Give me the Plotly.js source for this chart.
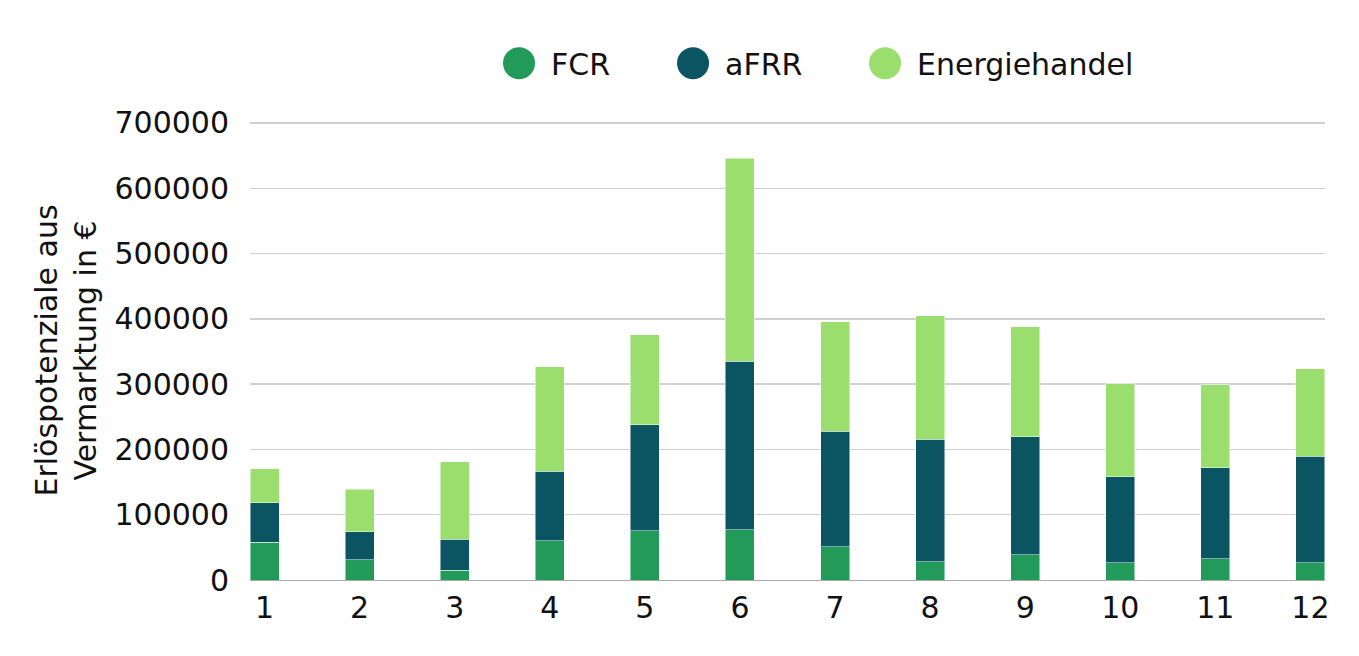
<!DOCTYPE html>
<html>
<head>
<meta charset="utf-8">
<script src="https://cdn.plot.ly/plotly-3.0.1.min.js"></script>
<style>html,body{margin:0;padding:0;background:#fff;}#chart{width:1359px;height:656px;}</style>
</head>
<body>
<div id="chart"></div>
<script>
// Data
var months = ["1","2","3","4","5","6","7","8","9","10","11","12"];
var fcr = [58000, 30700, 15300, 59800, 75200, 76700, 50600, 27600, 38400, 26100, 32200, 26100];
var afrr = [60500, 43500, 47100, 106400, 162600, 258300, 177000, 187700, 181000, 132400, 140100, 163100];
var energiehandel = [51700, 65000, 118600, 160600, 137700, 311000, 167800, 189700, 168800, 142300, 126900, 134600];
var seriesNames = ["FCR", "aFRR", "Energiehandel"];
var yTicks = [0, 100000, 200000, 300000, 400000, 500000, 600000, 700000];

var colors = ["#229A59", "#0B5563", "#9ADF6E"];
var FONT = "DejaVu Sans, sans-serif";

function barTrace(vals, i, lw) {
  return {
    type: "bar", x: months, y: vals, name: seriesNames[i],
    marker: {color: colors[i], line: {color: "rgba(255,255,255,0.6)", width: 0.8}},
    legendwidth: lw, hoverinfo: "skip"
  };
}
var data = [barTrace(fcr, 0, 105), barTrace(afrr, 1, 123), barTrace(energiehandel, 2, 220)];

var layout = {
  width: 1359, height: 656,
  margin: {l: 250, r: 34, t: 121, b: 76, pad: 0},
  paper_bgcolor: "#fff", plot_bgcolor: "#fff",
  barmode: "stack", bargap: 0.695,
  font: {family: FONT, size: 30, color: "#111"},
  showlegend: true,
  legend: {
    orientation: "h", x: 0.2205, xanchor: "left", y: 1.126, yanchor: "middle",
    itemwidth: 54, traceorder: "normal",
    font: {family: FONT, size: 30, color: "#111"}, bgcolor: "rgba(0,0,0,0)"
  },
  xaxis: {
    type: "category", range: [-0.153, 11.153], tickvals: months, ticktext: months,
    showgrid: false, zeroline: false, showline: true, linecolor: "#A8A8A8", linewidth: 1,
    ticks: "", ticklabelstandoff: 1, automargin: false,
    tickfont: {family: FONT, size: 30, color: "#111"}
  },
  yaxis: {
    range: [0, 703000], tickvals: yTicks, tickformat: "d",
    showgrid: true, gridcolor: "#CFCFCF", gridwidth: 1.5, zeroline: false, showline: false,
    ticks: "", ticklabelstandoff: 20, automargin: false,
    tickfont: {family: FONT, size: 30, color: "#111"},
    title: {text: "Erlöspotenziale aus<br>Vermarktung in €", standoff: 8,
            font: {family: FONT, size: 30, color: "#111"}}
  }
};

function circleLegend(gd) {
  var r = 16;
  var circ = "M" + r + ",0A" + r + "," + r + " 0 1,1 0,-" + r + "A" + r + "," + r + " 0 0,1 " + r + ",0Z";
  gd.querySelectorAll(".legendpoints path").forEach(function(p) {
    p.setAttribute("d", circ);
    p.style.strokeWidth = "0";
  });
}

var gdEl = document.getElementById("chart");
Plotly.newPlot(gdEl, data, layout, {staticPlot: true, displayModeBar: false}).then(function(gd) {
  circleLegend(gd);
  setTimeout(function() { circleLegend(gd); }, 50);
});
</script>
</body>
</html>
